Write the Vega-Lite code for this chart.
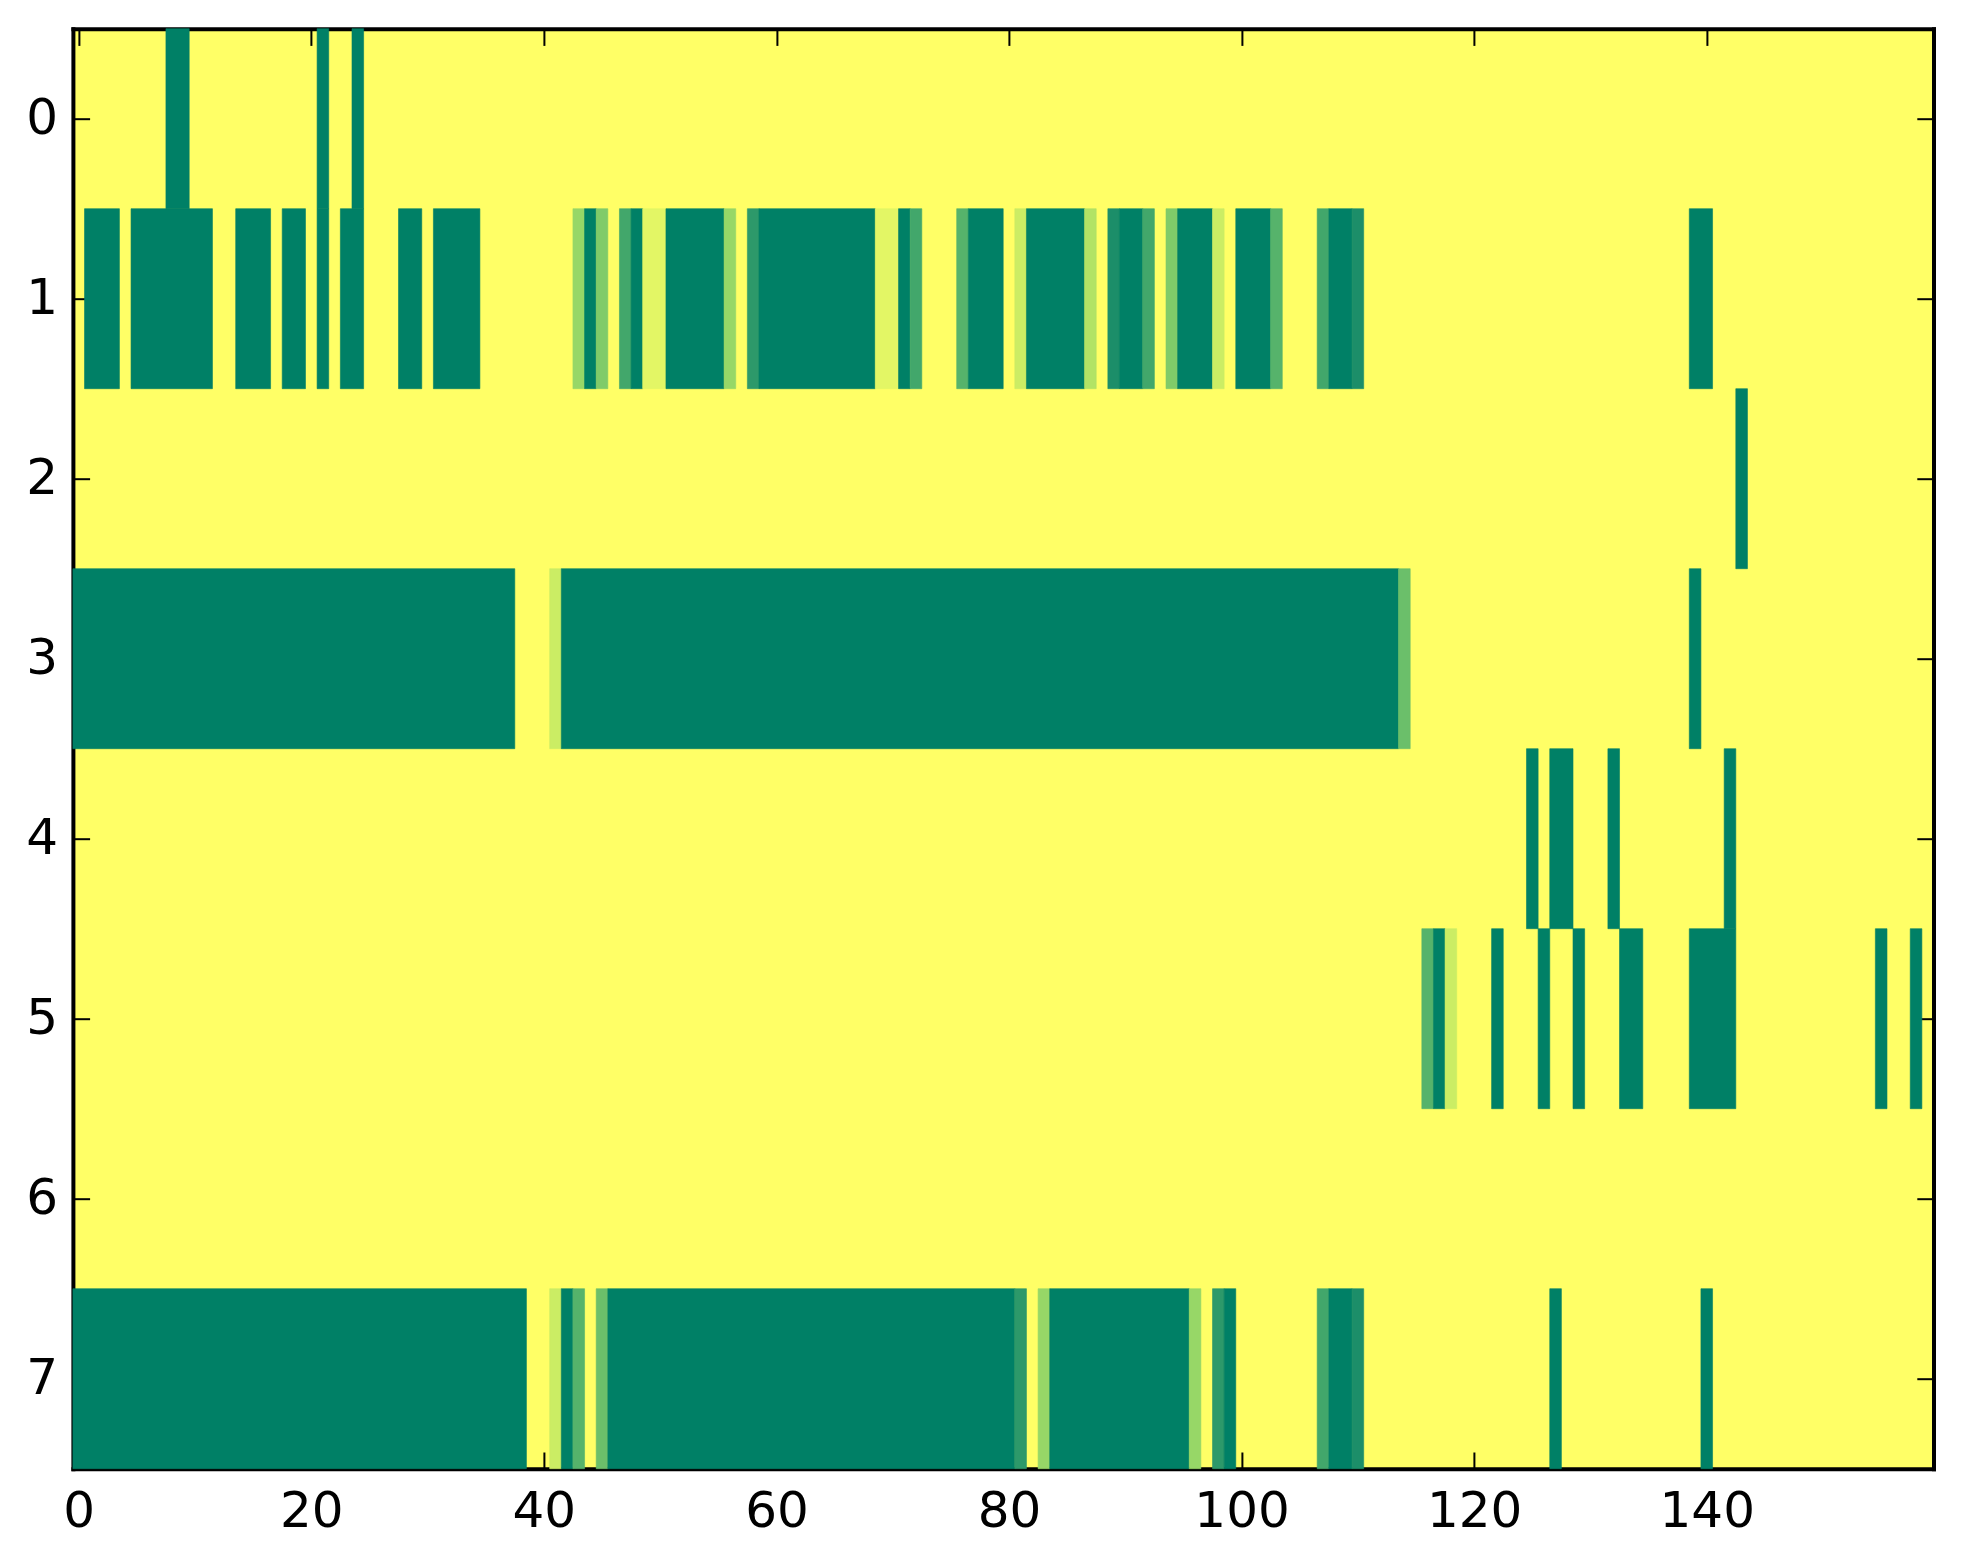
{
  "$schema": "https://vega.github.io/schema/vega-lite/v6.json",
  "width": 1860.6,
  "height": 1440,
  "autosize": "none",
  "padding": {"left": 72.9, "top": 28.7, "right": 29.5, "bottom": 95.3},
  "background": "white",

  "config": {
    "view": {"fill": "#ffff66", "stroke": null},
    "axis": {
      "zindex": 1,
      "domainColor": "black",
      "domainWidth": 4,
      "domainCap": "square",
      "tickColor": "black",
      "tickWidth": 2,
      "tickSize": -16.7,
      "labelFont": "DejaVu Sans",
      "labelFontSize": 50,
      "labelColor": "black",
      "grid": false,
      "title": null
    }
  },

  "data": {
    "values": [
      {"row": 0, "x0": 7.5, "x1": 9.5, "v": 1},
      {"row": 0, "x0": 20.5, "x1": 21.5, "v": 1},
      {"row": 0, "x0": 23.5, "x1": 24.5, "v": 1},

      {"row": 1, "x0": 0.5, "x1": 3.5, "v": 1},
      {"row": 1, "x0": 4.5, "x1": 11.5, "v": 1},
      {"row": 1, "x0": 13.5, "x1": 16.5, "v": 1},
      {"row": 1, "x0": 17.5, "x1": 19.5, "v": 1},
      {"row": 1, "x0": 20.5, "x1": 21.5, "v": 1},
      {"row": 1, "x0": 22.5, "x1": 24.5, "v": 1},
      {"row": 1, "x0": 27.5, "x1": 29.5, "v": 1},
      {"row": 1, "x0": 30.5, "x1": 34.5, "v": 1},
      {"row": 1, "x0": 42.5, "x1": 43.5, "v": 0.36},
      {"row": 1, "x0": 43.5, "x1": 44.5, "v": 1},
      {"row": 1, "x0": 44.5, "x1": 45.5, "v": 0.45},
      {"row": 1, "x0": 46.5, "x1": 47.5, "v": 0.72},
      {"row": 1, "x0": 47.5, "x1": 48.5, "v": 1},
      {"row": 1, "x0": 48.5, "x1": 50.5, "v": 0.09},
      {"row": 1, "x0": 50.5, "x1": 55.5, "v": 1},
      {"row": 1, "x0": 55.5, "x1": 56.5, "v": 0.36},
      {"row": 1, "x0": 57.5, "x1": 58.5, "v": 0.82},
      {"row": 1, "x0": 58.5, "x1": 68.5, "v": 1},
      {"row": 1, "x0": 68.5, "x1": 70.5, "v": 0.09},
      {"row": 1, "x0": 70.5, "x1": 71.5, "v": 1},
      {"row": 1, "x0": 71.5, "x1": 72.5, "v": 0.72},
      {"row": 1, "x0": 75.5, "x1": 76.5, "v": 0.63},
      {"row": 1, "x0": 76.5, "x1": 79.5, "v": 1},
      {"row": 1, "x0": 80.5, "x1": 81.5, "v": 0.17},
      {"row": 1, "x0": 81.5, "x1": 86.5, "v": 1},
      {"row": 1, "x0": 86.5, "x1": 87.5, "v": 0.26},
      {"row": 1, "x0": 88.5, "x1": 89.5, "v": 0.9},
      {"row": 1, "x0": 89.5, "x1": 91.5, "v": 1},
      {"row": 1, "x0": 91.5, "x1": 92.5, "v": 0.72},
      {"row": 1, "x0": 93.5, "x1": 94.5, "v": 0.45},
      {"row": 1, "x0": 94.5, "x1": 97.5, "v": 1},
      {"row": 1, "x0": 97.5, "x1": 98.5, "v": 0.17},
      {"row": 1, "x0": 99.5, "x1": 102.5, "v": 1},
      {"row": 1, "x0": 102.5, "x1": 103.5, "v": 0.63},
      {"row": 1, "x0": 106.5, "x1": 107.5, "v": 0.72},
      {"row": 1, "x0": 107.5, "x1": 109.5, "v": 1},
      {"row": 1, "x0": 109.5, "x1": 110.5, "v": 0.9},
      {"row": 1, "x0": 138.5, "x1": 140.5, "v": 1},

      {"row": 2, "x0": 142.5, "x1": 143.5, "v": 1},

      {"row": 3, "x0": -0.5, "x1": 37.5, "v": 1},
      {"row": 3, "x0": 40.5, "x1": 41.5, "v": 0.17},
      {"row": 3, "x0": 41.5, "x1": 113.5, "v": 1},
      {"row": 3, "x0": 113.5, "x1": 114.5, "v": 0.54},
      {"row": 3, "x0": 138.5, "x1": 139.5, "v": 1},

      {"row": 4, "x0": 124.5, "x1": 125.5, "v": 1},
      {"row": 4, "x0": 126.5, "x1": 128.5, "v": 1},
      {"row": 4, "x0": 131.5, "x1": 132.5, "v": 1},
      {"row": 4, "x0": 141.5, "x1": 142.5, "v": 1},

      {"row": 5, "x0": 115.5, "x1": 116.5, "v": 0.63},
      {"row": 5, "x0": 116.5, "x1": 117.5, "v": 1},
      {"row": 5, "x0": 117.5, "x1": 118.5, "v": 0.17},
      {"row": 5, "x0": 121.5, "x1": 122.5, "v": 1},
      {"row": 5, "x0": 125.5, "x1": 126.5, "v": 1},
      {"row": 5, "x0": 128.5, "x1": 129.5, "v": 1},
      {"row": 5, "x0": 132.5, "x1": 134.5, "v": 1},
      {"row": 5, "x0": 138.5, "x1": 142.5, "v": 1},
      {"row": 5, "x0": 154.5, "x1": 155.5, "v": 1},
      {"row": 5, "x0": 157.5, "x1": 158.5, "v": 1},

      {"row": 7, "x0": -0.5, "x1": 38.5, "v": 1},
      {"row": 7, "x0": 40.5, "x1": 41.5, "v": 0.17},
      {"row": 7, "x0": 41.5, "x1": 42.5, "v": 1},
      {"row": 7, "x0": 42.5, "x1": 43.5, "v": 0.63},
      {"row": 7, "x0": 44.5, "x1": 45.5, "v": 0.54},
      {"row": 7, "x0": 45.5, "x1": 80.5, "v": 1},
      {"row": 7, "x0": 80.5, "x1": 81.5, "v": 0.82},
      {"row": 7, "x0": 82.5, "x1": 83.5, "v": 0.36},
      {"row": 7, "x0": 83.5, "x1": 95.5, "v": 1},
      {"row": 7, "x0": 95.5, "x1": 96.5, "v": 0.36},
      {"row": 7, "x0": 97.5, "x1": 98.5, "v": 0.82},
      {"row": 7, "x0": 98.5, "x1": 99.5, "v": 1},
      {"row": 7, "x0": 106.5, "x1": 107.5, "v": 0.72},
      {"row": 7, "x0": 107.5, "x1": 109.5, "v": 1},
      {"row": 7, "x0": 109.5, "x1": 110.5, "v": 0.9},
      {"row": 7, "x0": 126.5, "x1": 127.5, "v": 1},
      {"row": 7, "x0": 139.5, "x1": 140.5, "v": 1}
    ]
  },

  "encoding": {
    "x": {
      "field": "x0",
      "type": "quantitative",
      "scale": {"domain": [-0.5, 159.5], "nice": false, "zero": false},
      "axis": {"values": [0, 20, 40, 60, 80, 100, 120, 140], "labelPadding": 34, "labelFlush": false, "labelOverlap": false}
    },
    "x2": {"field": "x1"},
    "y": {
      "field": "row",
      "type": "ordinal",
      "scale": {"domain": [0, 1, 2, 3, 4, 5, 6, 7], "paddingInner": 0, "paddingOuter": 0},
      "axis": {"labelAngle": 0, "labelPadding": 32}
    },
    "color": {
      "field": "v",
      "type": "quantitative",
      "scale": {"domain": [0, 1], "range": ["#ffff66", "#008066"]},
      "legend": null
    },
    "stroke": {
      "field": "v",
      "type": "quantitative",
      "scale": {"domain": [0, 1], "range": ["#ffff66", "#008066"]},
      "legend": null
    }
  },

  "layer": [
    {"mark": {"type": "rect", "strokeWidth": 0.6}},
    {
      "mark": {"type": "rect", "opacity": 0},
      "encoding": {
        "x": {
          "field": "x0",
          "type": "quantitative",
          "scale": {"domain": [-0.5, 159.5], "nice": false, "zero": false},
          "axis": {"orient": "top", "values": [0, 20, 40, 60, 80, 100, 120, 140], "labels": false}
        },
        "y": {
          "field": "row",
          "type": "ordinal",
          "scale": {"domain": [0, 1, 2, 3, 4, 5, 6, 7], "paddingInner": 0, "paddingOuter": 0},
          "axis": {"orient": "right", "labels": false}
        }
      }
    }
  ],

  "resolve": {"axis": {"x": "independent", "y": "independent"}}
}
